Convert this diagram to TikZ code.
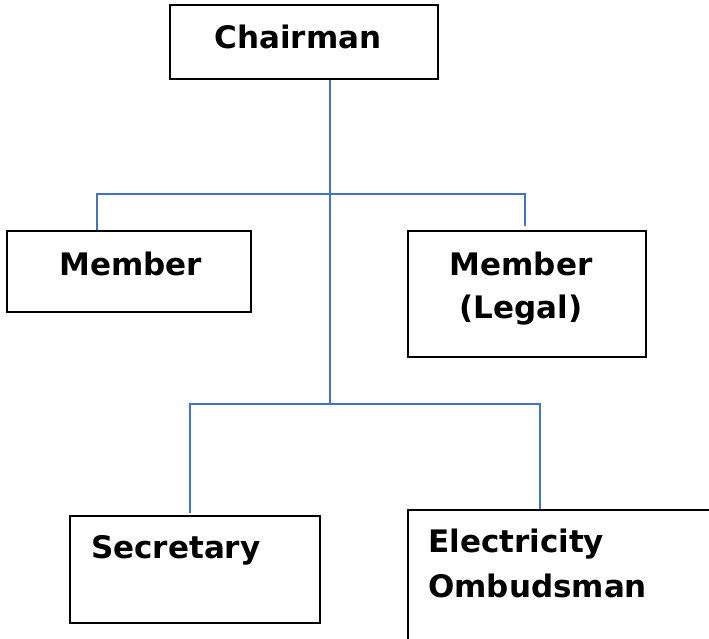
\documentclass[tikz,border=0pt]{standalone}
\usepackage{fontspec}
\setmainfont{DejaVu Sans}
\definecolor{linkblue}{RGB}{68,114,196}
\begin{document}
\begin{tikzpicture}[x=1pt, y=-1pt,
    box/.style={draw=black, line width=1.3pt, inner sep=0pt},
    lbl/.style={font=\fontsize{31}{44}\selectfont\bfseries, inner sep=0pt},
    link/.style={draw=linkblue, line width=1.3pt}]

    \useasboundingbox (0,0) rectangle (709,639);
    \clip (0,0) rectangle (709,639);

    %% boxes
    \node[box, minimum width=268pt, minimum height=74pt]  (chair) at (304,42) {};
    \node[box, minimum width=244pt, minimum height=81pt]  (mem)   at (129,271.5) {};
    \node[box, minimum width=238pt, minimum height=126pt] (legal) at (527,294) {};
    \node[box, minimum width=250pt, minimum height=107pt] (sec)   at (195,569.5) {};
    \node[box, minimum width=312pt, minimum height=150pt] (omb)   at (564,585) {};

    %% texts
    \node[lbl, anchor=base] (chairT) at (298,49) {Chairman};
    \node[lbl, anchor=base] (memT) at (130.5,275) {Member};
    \node[lbl, anchor=base] (legalT1) at (521,275) {Member};
    \node[lbl, anchor=base] (legalT2) at (521,318) {(Legal)};
    \node[lbl, anchor=base west] (secT) at (91,558) {Secretary};
    \node[lbl, anchor=base west] (ombT1) at (428,552) {Electricity};
    \node[lbl, anchor=base west] (ombT2) at (428,597) {Ombudsman};

    %% bus points
    \coordinate (hiL) at (97,194);
    \coordinate (hiR) at (525,194);
    \coordinate (hiEnd) at (525,226);
    \coordinate (loM) at (330,404);
    \coordinate (loL) at (190,404);
    \coordinate (loR) at (540,404);
    \coordinate (secEnd) at (190,513);

    %% connectors
    \draw[link] (chair.south -| loM) -- (loM);
    \draw[link] (hiL |- mem.north) -- (hiL) -- (hiR) -- (hiEnd);
    \draw[link] (secEnd) -- (loL) -- (loR) -- (loR |- omb.north);
\end{tikzpicture}
\end{document}
